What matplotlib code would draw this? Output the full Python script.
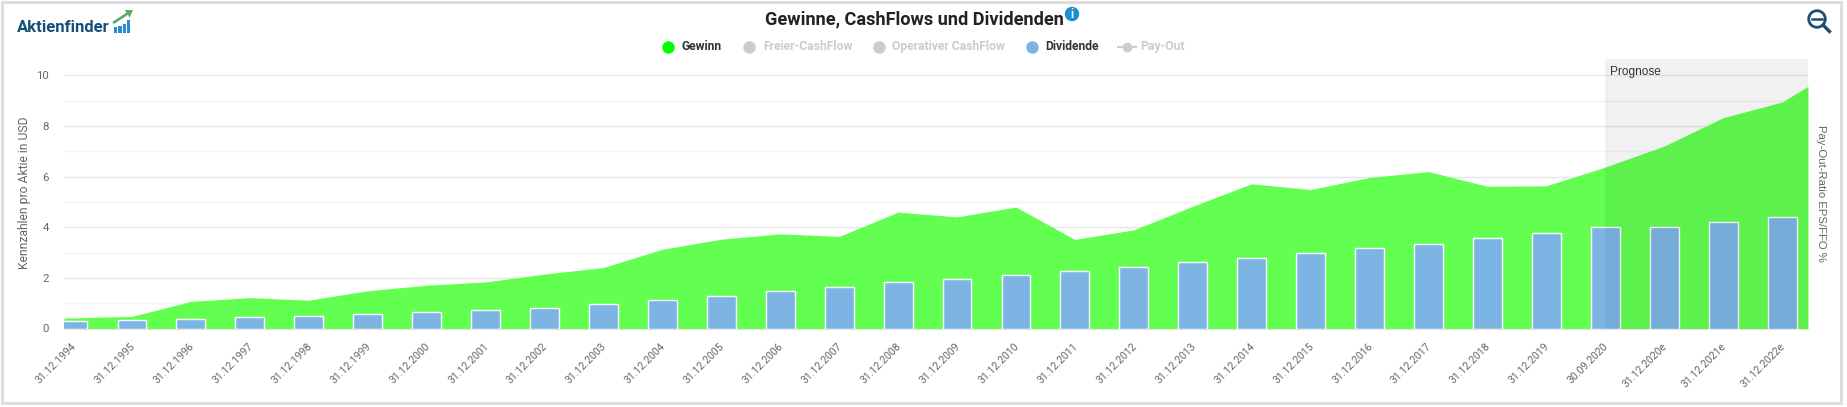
"""Gewinne, CashFlows und Dividenden - area + bars with forecast band."""

import numpy as np
from matplotlib import pyplot as plt
from matplotlib.lines import Line2D
from matplotlib.patches import Circle, FancyArrow, Rectangle
from matplotlib.transforms import ScaledTranslation

plt.rcParams["font.family"] = ["Roboto", "DejaVu Sans"]

W, H = 1847, 407

dates = [
    "31.12.1994", "31.12.1995", "31.12.1996", "31.12.1997", "31.12.1998",
    "31.12.1999", "31.12.2000", "31.12.2001", "31.12.2002", "31.12.2003",
    "31.12.2004", "31.12.2005", "31.12.2006", "31.12.2007", "31.12.2008",
    "31.12.2009", "31.12.2010", "31.12.2011", "31.12.2012", "31.12.2013",
    "31.12.2014", "31.12.2015", "31.12.2016", "31.12.2017", "31.12.2018",
    "31.12.2019", "30.09.2020", "31.12.2020e", "31.12.2021e", "31.12.2022e",
]
gewinn = [
    0.42, 0.48, 1.07, 1.22, 1.12, 1.49, 1.71, 1.84, 2.15, 2.41,
    3.13, 3.53, 3.74, 3.64, 4.60, 4.41, 4.80, 3.52, 3.90, 4.83,
    5.72, 5.49, 5.97, 6.20, 5.62, 5.64, 6.38, 7.21, 8.33, 8.95,
]
gewinn_left_edge = 0.42
gewinn_right_edge = 9.57
dividende = [
    0.30, 0.34, 0.38, 0.46, 0.50, 0.59, 0.65, 0.73, 0.81, 0.97,
    1.12, 1.29, 1.48, 1.65, 1.83, 1.95, 2.11, 2.27, 2.44, 2.63,
    2.80, 2.98, 3.18, 3.34, 3.57, 3.78, 4.00, 4.00, 4.20, 4.41,
]
legend_items = ["Gewinn", "Freier-CashFlow", "Operativer CashFlow", "Dividende", "Pay-Out"]

XMIN, XMAX = -0.153, 29.44
YMAX = 10.65

fig = plt.figure(figsize=(W / 100, H / 100), dpi=100, facecolor="white")

# pixel overlay for frame, logo, legend and icons
ov = fig.add_axes([0, 0, 1, 1], zorder=5)
ov.set_xlim(0, W)
ov.set_ylim(H, 0)
ov.axis("off")
ov.patch.set_alpha(0)

ax = fig.add_axes([64 / W, 1 - 328.5 / H, (1808 - 64) / W, (328.5 - 59) / H], zorder=2)
x = np.arange(len(dates))

ax.fill_between(np.r_[XMIN, x, XMAX], np.r_[gewinn_left_edge, gewinn, gewinn_right_edge],
                color="#62ff50", lw=0, zorder=2)
ax.bar(x, dividende, width=0.49, color="#7cb5e4", edgecolor="white", linewidth=1, zorder=3)
ax.axvspan(26, XMAX, color="black", alpha=0.055, lw=0, zorder=4)
ax.text(26.08, 10.15, "Prognose", family="Liberation Sans", fontsize=8.6, color="#333333",
        va="center", ha="left", zorder=5)

ax.set_xlim(XMIN, XMAX)
ax.set_ylim(0, YMAX)
ax.set_yticks(np.arange(0, 11, 2))
ax.set_yticks(np.arange(1, 11, 2), minor=True)
ax.grid(True, which="major", axis="y", color="#e6e6e6", lw=1, zorder=1)
ax.grid(True, which="minor", axis="y", color="#f2f2f2", lw=1, zorder=1)
ax.set_axisbelow(True)
ax.set_xticks(x)
ax.set_xticklabels(dates, rotation=45, ha="right", va="top", rotation_mode="anchor")
ax.tick_params(axis="x", length=0, pad=9, labelsize=7.6, labelcolor="#666666")
ax.tick_params(axis="y", which="both", length=0, pad=10.8, labelsize=8.2, labelcolor="#666666")
# date labels sit a little left of the tick
nudge = ScaledTranslation(-2 / 100, 0, fig.dpi_scale_trans)
for lab in ax.get_xticklabels():
    lab.set_transform(lab.get_transform() + nudge)
for s in ["top", "left", "right"]:
    ax.spines[s].set_visible(False)
ax.spines["bottom"].set_color("#e6e6e6")

# outer frame
ov.add_patch(Rectangle((2, 2), 1839, 401, fill=False, ec="#dcdcdc", lw=2))

ov.text(914.5, 19.5, "Gewinne, CashFlows und Dividenden", fontsize=13.1, fontweight="bold",
        color="#222222", ha="center", va="center")
ov.add_patch(Circle((1072, 14), 7.2, color="#1a8fd1", lw=0))
ov.text(1072, 14, "i", fontsize=8.5, fontweight="bold", color="white", ha="center", va="center")

# legend
legend_marker_x = [668, 749, 879, 1032, 1127]
legend_text_x = [681, 763, 892, 1045, 1140]
legend_colors = ["#00ff00", "#cccccc", "#cccccc", "#7cb5e4", "#cccccc"]
legend_text_colors = ["#333333", "#cccccc", "#cccccc", "#333333", "#cccccc"]
for name, mx, tx, c, tc in zip(legend_items, legend_marker_x, legend_text_x,
                               legend_colors, legend_text_colors):
    if name == "Pay-Out":
        ov.add_line(Line2D([mx - 9, mx + 9], [46.5, 46.5], color=c, lw=1.5))
        ov.plot(mx, 46.5, "o", color=c, ms=7, mew=0)
    else:
        ov.plot(mx, 46.5, "o", color=c, ms=9, mew=0)
    ov.text(tx, 46.5, name, fontsize=8.7, fontweight="bold", color=tc, ha="left", va="center")

# axis titles
ov.text(24.5, 193, "Kennzahlen pro Aktie in USD", fontsize=8.7, color="#666666",
        rotation=90, ha="center", va="center")
ov.text(1821, 193, "Pay-Out-Ratio EPS/FFO %", family="Liberation Sans", fontsize=8.2,
        color="#666666", rotation=270, ha="center", va="center")

# logo
ov.text(17, 27, "Aktienfinder", fontsize=12, fontweight="bold", color="#12507a",
        ha="left", va="center")
for bx, bh in zip([113.5, 118, 122.5, 126.5], [6, 7, 9, 13]):
    ov.add_patch(Rectangle((bx, 32.5 - bh), 3.6, bh, color="#2a8ccf", lw=0))
ov.add_patch(FancyArrow(113, 23, 20, -13, width=2.6, head_width=9, head_length=7,
                        length_includes_head=True, color="#55ab6c", lw=0))

# zoom-out icon
ov.add_patch(Circle((1817, 19), 8.3, fill=False, ec="#1c4e74", lw=2))
ov.add_line(Line2D([1812, 1822], [19, 19], color="#1c4e74", lw=1.8))
ov.add_line(Line2D([1823, 1829.5], [25, 31.5], color="#1c4e74", lw=2.4))

fig.savefig("out.png", dpi=100)
